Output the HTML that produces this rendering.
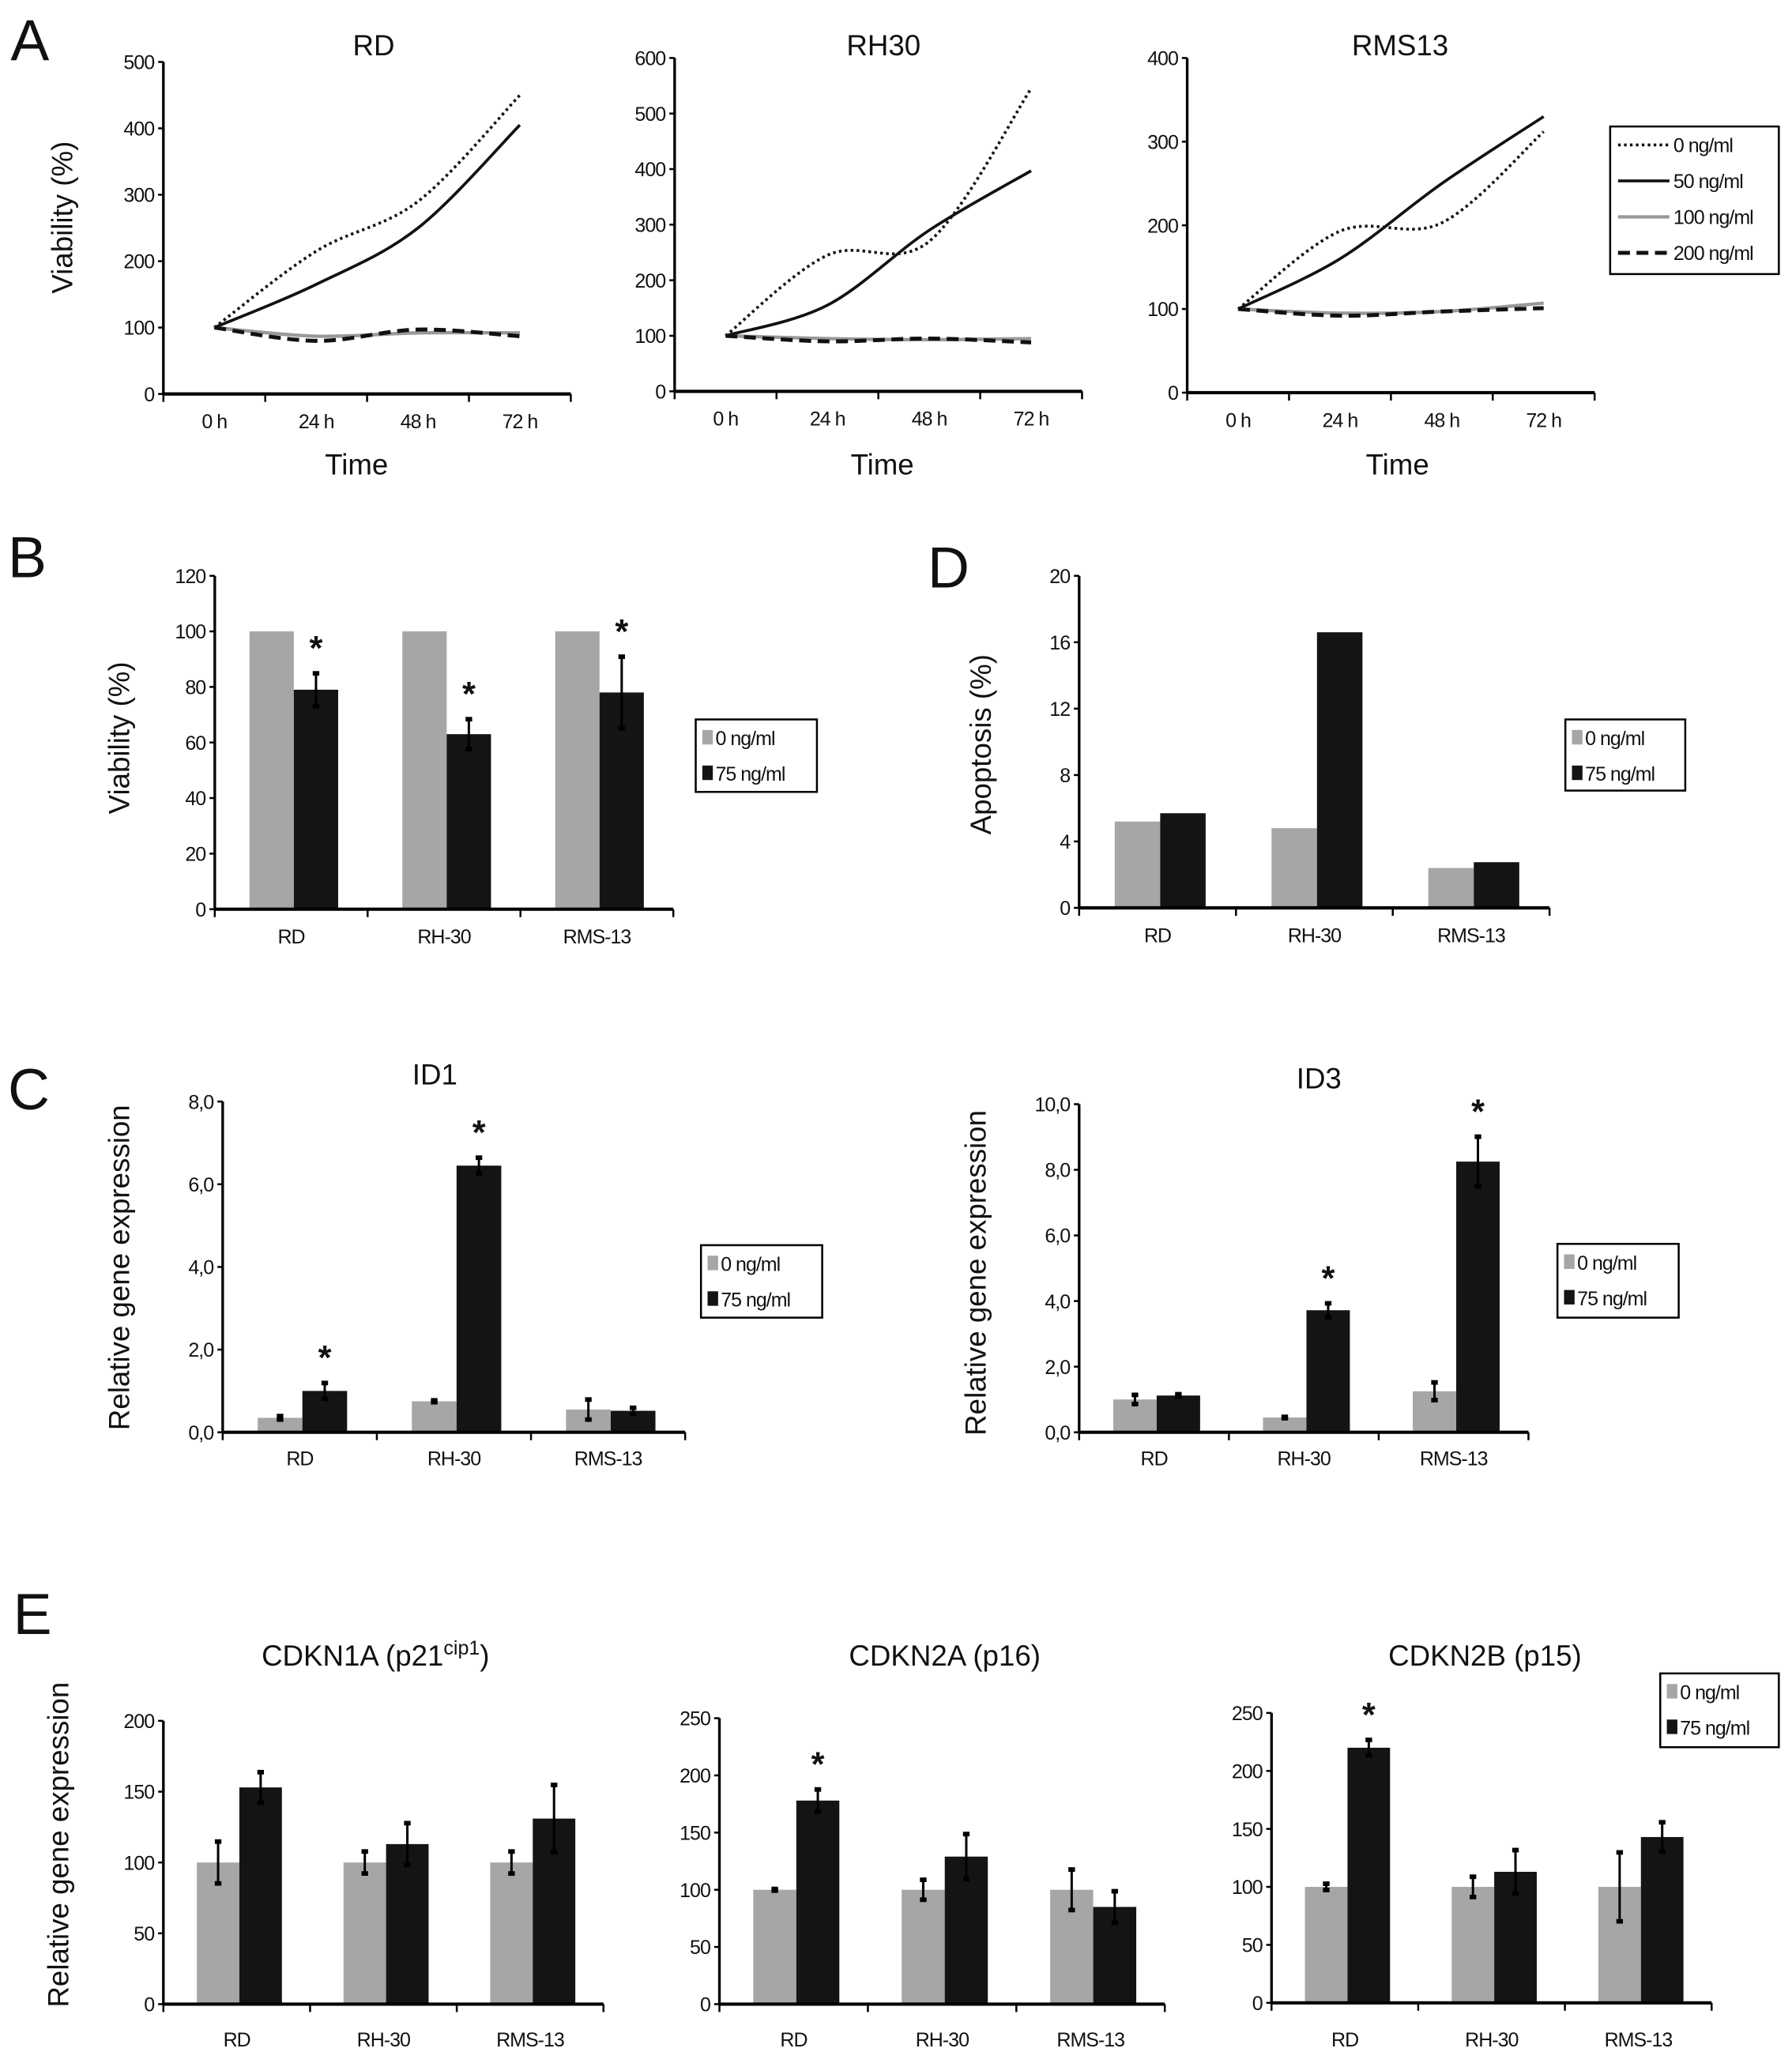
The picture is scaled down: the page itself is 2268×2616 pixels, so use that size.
<!DOCTYPE html>
<html><head><meta charset="utf-8"><style>
html,body{margin:0;padding:0;background:#fff}
svg{display:block}
text{font-family:"Liberation Sans Narrow","Liberation Sans",sans-serif;fill:#111}
.tick{font-size:15px;font-stretch:condensed;letter-spacing:-0.6px}
.ttl{font-family:"Liberation Sans",sans-serif;font-size:22px}
.ax{font-family:"Liberation Sans",sans-serif;font-size:22px}
.let{font-family:"Liberation Sans",sans-serif;font-size:44px}
</style></head><body>
<svg id="fig" width="2268" height="2616" viewBox="0 0 1360 1568.7" preserveAspectRatio="none" xmlns="http://www.w3.org/2000/svg">
<text class="let" x="8" y="46">A</text>
<text class="let" x="6" y="438">B</text>
<text class="let" x="704" y="446">D</text>
<text class="let" x="6" y="842">C</text>
<text class="let" x="10" y="1240">E</text>
<g id="root"></g>
</svg>
<script>
// ---- Panel A data ----
const timeLabels = ["0 h","24 h","48 h","72 h"];
const seriesNames = ["0 ng/ml","50 ng/ml","100 ng/ml","200 ng/ml"];
const rdDose0 = [100,215,290,450];
const rdDose50 = [100,165,250,405];
const rdDose100 = [100,87,92,92];
const rdDose200 = [100,80,97,87];
const rh30Dose0 = [100,245,270,545];
const rh30Dose50 = [100,155,290,397];
const rh30Dose100 = [100,95,93,95];
const rh30Dose200 = [100,90,95,88];
const rms13Dose0 = [100,193,203,312];
const rms13Dose50 = [100,160,250,330];
const rms13Dose100 = [100,95,97,107];
const rms13Dose200 = [100,92,97,101];
const rdTicks = [0,100,200,300,400,500];
const rh30Ticks = [0,100,200,300,400,500,600];
const rms13Ticks = [0,100,200,300,400];
// ---- Bar chart data ----
const cellLines = ["RD","RH-30","RMS-13"];
const barLegend = ["0 ng/ml","75 ng/ml"];
const viabCtrl = [100,100,100];
const viabTreat = [79,63,78];
const viabTreatErr = [6,5.5,13];
const viabStar = [true,true,true];
const viabTicks = [0,20,40,60,80,100,120];
const apopCtrl = [5.2,4.8,2.4];
const apopTreat = [5.7,16.6,2.75];
const apopTicks = [0,4,8,12,16,20];
const id1Ctrl = [0.35,0.75,0.55];
const id1CtrlErr = [0.05,0.03,0.25];
const id1Treat = [1.0,6.45,0.52];
const id1TreatErr = [0.2,0.2,0.08];
const id1Star = [true,true,false];
const id1Ticks = ["0,0","2,0","4,0","6,0","8,0"];
const id3Ctrl = [1.0,0.45,1.25];
const id3CtrlErr = [0.15,0.03,0.28];
const id3Treat = [1.12,3.72,8.25];
const id3TreatErr = [0.05,0.22,0.77];
const id3Star = [false,true,true];
const id3Ticks = ["0,0","2,0","4,0","6,0","8,0","10,0"];
const p21Ctrl = [100,100,100];
const p21CtrlErr = [15,8,8];
const p21Treat = [153,113,131];
const p21TreatErr = [11,15,24];
const p16Ctrl = [100,100,100];
const p16CtrlErr = [1,9,18];
const p16Treat = [178,129,85];
const p16TreatErr = [10,20,14];
const p15Ctrl = [100,100,100];
const p15CtrlErr = [3,9,30];
const p15Treat = [220,113,143];
const p15TreatErr = [7,19,13];
const eTicks200 = [0,50,100,150,200];
const eTicks250 = [0,50,100,150,200,250];

const NS="http://www.w3.org/2000/svg";
const root=document.getElementById('root');
function mk(tag,attrs,parent,txt){const e=document.createElementNS(NS,tag);for(const k in attrs)e.setAttribute(k,attrs[k]);if(txt!==undefined)e.textContent=txt;(parent||root).appendChild(e);return e;}
function num(t){return typeof t==="string"?parseFloat(t.replace(",", ".")):t;}

function axes(g,x0,x1,y0,yTop,ticks,yScale,nCat,catW,catLabels,labY){
  const ya=mk('line',{x1:x0,y1:y0,x2:x0,y2:yTop,stroke:'#000','stroke-width':2},g);
  
  
  const xa=mk('line',{x1:x0,y1:y0,x2:x1,y2:y0,stroke:'#000','stroke-width':2.5},g);
  
  
  ticks.forEach(t=>{const y=yScale(num(t));
    mk('line',{x1:x0-4,y1:y,x2:x0,y2:y,stroke:'#000','stroke-width':1.5},g);
    const tl=mk('text',{x:x0-7,y:y+5.5,'text-anchor':'end',class:'tick'},g,String(t));
    
    
  });
  for(let i=0;i<=nCat;i++){const x=x0+i*catW;mk('line',{x1:x,y1:y0,x2:x,y2:y0+6,stroke:'#000','stroke-width':1.5},g);}
  catLabels.forEach((c,i)=>{const tl=mk('text',{x:x0+(i+0.5)*catW,y:labY,'text-anchor':'middle',class:'tick'},g,c);
    
    });
}

function spline(pts){let d=`M${pts[0][0]},${pts[0][1]}`;
  for(let i=0;i<pts.length-1;i++){const p0=pts[Math.max(0,i-1)],p1=pts[i],p2=pts[i+1],p3=pts[Math.min(pts.length-1,i+2)];
    const c1=[p1[0]+(p2[0]-p0[0])/6,p1[1]+(p2[1]-p0[1])/6],c2=[p2[0]-(p3[0]-p1[0])/6,p2[1]-(p3[1]-p1[1])/6];
    d+=` C${c1[0]},${c1[1]} ${c2[0]},${c2[1]} ${p2[0]},${p2[1]}`;}
  return d;}

const lineStyles=[{stroke:'#111','stroke-width':2.2,'stroke-dasharray':'2 2.5'},{stroke:'#111','stroke-width':2.2},{stroke:'#999','stroke-width':2.6},{stroke:'#111','stroke-width':3,'stroke-dasharray':'9 5'}];

function lineChart(name,title,x0,y0,yTop,ymax,ticks,series,tOff,ttlOff){
  const g=mk('g',{});
  
  
  const catW=77.3,x1=x0+catW*4;
  const ys=v=>y0-(v/ymax)*(y0-yTop);
  axes(g,x0,x1,y0,yTop,ticks,ys,4,catW,timeLabels,y0+26);
  series.forEach((s,k)=>{const pts=s.map((v,i)=>[x0+(i+0.5)*catW,ys(v)]);
    const p=mk('path',Object.assign({d:spline(pts),fill:'none'},lineStyles[k]),g);
    
    });
  const t=mk('text',{x:x0+catW*2+ttlOff,y:42,'text-anchor':'middle',class:'ttl'},g,title);
  
  
  const xt=mk('text',{x:x0+catW*2+tOff,y:360,'text-anchor':'middle',class:'ax'},g,'Time');
  
  
}
lineChart('chart-rd','RD',124,299,47,500,rdTicks,[rdDose0,rdDose50,rdDose100,rdDose200],-8,5);
lineChart('chart-rh30','RH30',512,297,44,600,rh30Ticks,[rh30Dose0,rh30Dose50,rh30Dose100,rh30Dose200],3,4);
lineChart('chart-rms13','RMS13',901,298,44,400,rms13Ticks,[rms13Dose0,rms13Dose50,rms13Dose100,rms13Dose200],5,7);
{const t=mk('text',{x:0,y:0,class:'ax',transform:'translate(55,165) rotate(-90)','text-anchor':'middle'},root,'Viability (%)');
 
 }
// legend A
{const g=mk('g',{});
 
 
 mk('rect',{x:1222,y:96,width:128,height:112,fill:'#fff',stroke:'#000','stroke-width':1.5},g);
 seriesNames.forEach((n,k)=>{const y=110+k*27.3;
   mk('line',Object.assign({x1:1228,y1:y,x2:1267,y2:y},lineStyles[k]),g);
   const t=mk('text',{x:1270,y:y+5.5,class:'tick'},g,n);
   
   });}

function barChart(name,x0,x1,y0,yTop,ymax,ticks,ctrl,ctrlErr,treat,treatErr,stars,labY){
  const g=mk('g',{});
  
  
  const catW=(x1-x0)/3,bw=catW*0.29;
  const ys=v=>y0-(v/ymax)*(y0-yTop);
  cellLines.forEach((c,i)=>{const cx=x0+(i+0.5)*catW+2;
    [[ctrl,ctrlErr,'#a6a6a6',cx-bw,'bar-control-'],[treat,treatErr,'#141414',cx,'bar-treated-']].forEach(([vals,errs,col,bx,nm])=>{
      const y=ys(vals[i]);
      const r=mk('rect',{x:bx,y:y,width:bw,height:y0-y,fill:col},g);
      
      
      if(errs){const ex=bx+bw/2,e1=ys(vals[i]+errs[i]),e2=ys(vals[i]-errs[i]);
        mk('line',{x1:ex,y1:e1,x2:ex,y2:e2,stroke:'#000','stroke-width':1.8},g);
        mk('rect',{x:ex-2.5,y:e1-1.5,width:5,height:3.5,fill:'#000'},g);
        mk('rect',{x:ex-2.5,y:e2-2,width:5,height:3.5,fill:'#000'},g);}
    });
    if(stars&&stars[i]){const top=ys(treat[i]+(treatErr?treatErr[i]:0));
      const s=mk('text',{x:cx+bw/2,y:top-10,'text-anchor':'middle',style:'font-family:"Liberation Sans",sans-serif;font-size:26px;font-weight:bold'},g,'*');
      
      }
  });
  axes(g,x0,x1,y0,yTop,ticks,ys,3,catW,cellLines,labY);
  return g;
}
function legendBar(name,x,y,w,h){const g=mk('g',{});
  
  
  mk('rect',{x:x,y:y,width:w,height:h,fill:'#fff',stroke:'#000','stroke-width':1.5},g);
  barLegend.forEach((n,k)=>{const yy=y+14+k*27;
    mk('rect',{x:x+5,y:yy-6,width:8,height:11,fill:k?'#141414':'#a6a6a6'},g);
    const t=mk('text',{x:x+15,y:yy+5.5,class:'tick'},g,n);
    
    });}
function ylab(txt,x,y){const t=mk('text',{x:0,y:0,class:'ax',transform:`translate(${x},${y}) rotate(-90)`,'text-anchor':'middle'},root,txt);
  
  }
function title(txt,x,y){const t=mk('text',{x:x,y:y,'text-anchor':'middle',class:'ttl'},root,txt);
  
  return t;}

// B
barChart('chart-viability',163,511,690,437,120,viabTicks,viabCtrl,null,viabTreat,viabTreatErr,viabStar,716);
legendBar('legend-b',528,546,92,55);
ylab('Viability (%)',98,560);
// D
barChart('chart-apoptosis',819,1176,689,437,20,apopTicks,apopCtrl,null,apopTreat,null,null,715);
legendBar('legend-d',1188,546,91,54);
ylab('Apoptosis (%)',752,565);
// C
barChart('chart-id1',169,520,1087,836,8,id1Ticks,id1Ctrl,id1CtrlErr,id1Treat,id1TreatErr,id1Star,1112);
legendBar('legend-c-id1',532,945,92,55);
ylab('Relative gene expression',98,962);
title('ID1',330,823);
barChart('chart-id3',819,1160,1087,838,10,id3Ticks,id3Ctrl,id3CtrlErr,id3Treat,id3TreatErr,id3Star,1112);
legendBar('legend-c-id3',1182,944,92,56);
ylab('Relative gene expression',748,966);
title('ID3',1001,826);
// E
barChart('chart-p21',124,458,1521,1306,200,eTicks200,p21Ctrl,p21CtrlErr,p21Treat,p21TreatErr,null,1553);
barChart('chart-p16',546,884,1521,1304,250,eTicks250,p16Ctrl,p16CtrlErr,p16Treat,p16TreatErr,[true,false,false],1553);
barChart('chart-p15',965,1299,1520,1300,250,eTicks250,p15Ctrl,p15CtrlErr,p15Treat,p15TreatErr,[true,false,false],1553);
legendBar('legend-e',1260,1270,90,56);
ylab('Relative gene expression',52,1400);
{const t=title('CDKN1A (p21',285,1264);
 const s=mk('tspan',{'baseline-shift':'super','font-size':'15'},t,'cip1');
 mk('tspan',{},t,')');}
title('CDKN2A (p16)',717,1264);
title('CDKN2B (p15)',1127,1264);
</script>
</body></html>
